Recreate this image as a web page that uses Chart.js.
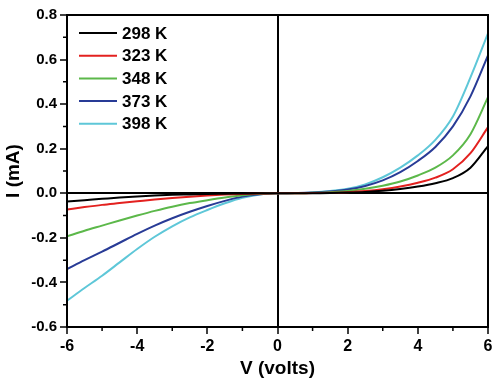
<!DOCTYPE html>
<html lang="en">
<head>
    <meta charset="UTF-8">
    <title>I-V curves</title>
    <style>
        body { margin: 0; padding: 0; background: #fff; }
        #wrap { width: 500px; height: 384px; }
    </style>
    <script src="https://cdn.jsdelivr.net/npm/chart.js"></script>
</head>
<body>
<div id="wrap"><canvas id="ivChart"></canvas></div>
<script>
    // voltage points (V)
    const volts = [-6, -5.5, -5, -4.5, -4, -3.5, -3, -2.5, -2, -1.5, -1, -0.5, 0,
                   0.5, 1, 1.5, 2, 2.5, 3, 3.5, 4, 4.5, 5, 5.5, 6];

    // current (mA)
    const i298 = [-0.037, -0.031, -0.025, -0.019, -0.014, -0.010, -0.007, -0.005, -0.003, -0.002, -0.001, 0, 0,
                  0, 0, 0.001, 0.003, 0.006, 0.011, 0.019, 0.030, 0.045, 0.068, 0.115, 0.212];
    const i323 = [-0.073, -0.062, -0.052, -0.044, -0.036, -0.028, -0.021, -0.015, -0.010, -0.006, -0.003, -0.001, 0,
                  0, 0.001, 0.002, 0.005, 0.010, 0.018, 0.030, 0.047, 0.070, 0.108, 0.180, 0.297];
    const i348 = [-0.193, -0.168, -0.145, -0.122, -0.100, -0.079, -0.060, -0.044, -0.031, -0.019, -0.009, -0.002, 0,
                  0, 0.002, 0.005, 0.010, 0.020, 0.034, 0.053, 0.080, 0.115, 0.170, 0.265, 0.431];
    const i373 = [-0.340, -0.300, -0.262, -0.222, -0.182, -0.145, -0.112, -0.083, -0.057, -0.034, -0.015, -0.004, 0,
                  0.001, 0.003, 0.008, 0.017, 0.033, 0.058, 0.095, 0.145, 0.208, 0.300, 0.435, 0.619];
    const i398 = [-0.482, -0.425, -0.370, -0.310, -0.250, -0.195, -0.148, -0.108, -0.075, -0.045, -0.020, -0.005, 0,
                  0.001, 0.004, 0.010, 0.020, 0.040, 0.072, 0.115, 0.170, 0.240, 0.345, 0.520, 0.718];

    const labels = ['298 K', '323 K', '348 K', '373 K', '398 K'];
    const colors = ['#000000', '#e3211f', '#5cb84a', '#283b96', '#5ec7d8'];
    const series = [i298, i323, i348, i373, i398];

    const font = 'Arial, "Liberation Sans", sans-serif';

    const datasets = series.map((vals, k) => ({
        label: labels[k],
        data: vals.map((v, j) => ({ x: volts[j], y: v })),
        borderColor: colors[k],
        backgroundColor: colors[k],
        borderWidth: 2,
        pointRadius: 0,
        cubicInterpolationMode: 'monotone',
        fill: false
    }));

    // frame, minor ticks and the in-plot legend
    const extras = {
        id: 'extras',
        afterDraw(chart) {
            const c = chart.ctx;
            const a = chart.chartArea;
            const xs = chart.scales.x, ys = chart.scales.y;
            c.save();
            c.strokeStyle = '#000';
            c.lineWidth = 2;
            c.strokeRect(a.left, a.top, a.right - a.left, a.bottom - a.top);

            // minor ticks halfway between labelled ones
            c.lineWidth = 1.5;
            c.beginPath();
            const xt = xs.ticks.map(t => t.value);
            for (let j = 0; j < xt.length - 1; j++) {
                const px = xs.getPixelForValue((xt[j] + xt[j + 1]) / 2);
                c.moveTo(px, a.bottom);
                c.lineTo(px, a.bottom + 4);
            }
            const yt = ys.ticks.map(t => t.value);
            for (let j = 0; j < yt.length - 1; j++) {
                const py = ys.getPixelForValue((yt[j] + yt[j + 1]) / 2);
                c.moveTo(a.left, py);
                c.lineTo(a.left - 4, py);
            }
            c.stroke();

            // legend
            c.font = 'bold 17px ' + font;
            c.textBaseline = 'middle';
            c.fillStyle = '#000';
            chart.data.datasets.forEach((ds, k) => {
                const y = a.top + 18 + k * 22.7;
                c.strokeStyle = ds.borderColor;
                c.lineWidth = 2;
                c.beginPath();
                c.moveTo(a.left + 12, y);
                c.lineTo(a.left + 50, y);
                c.stroke();
                c.fillText(ds.label, a.left + 55, y + 1);
            });
            c.restore();
        }
    };

    const zeroLine = ctx => (ctx.tick && Math.abs(ctx.tick.value) < 1e-9) ? '#000' : 'rgba(0,0,0,0)';

    new Chart(document.getElementById('ivChart'), {
        type: 'line',
        data: { datasets },
        options: {
            responsive: true,
            maintainAspectRatio: false,
            animation: false,
            layout: { padding: { top: 15, right: 12, left: 0, bottom: 0 } },
            plugins: {
                legend: { display: false },
                tooltip: { enabled: false }
            },
            scales: {
                x: {
                    type: 'linear',
                    min: -6, max: 6,
                    ticks: {
                        stepSize: 2,
                        color: '#000',
                        padding: 3,
                        font: { family: font, size: 16, weight: 'bold' }
                    },
                    grid: { color: zeroLine, lineWidth: 2, tickColor: '#000', tickLength: 7, tickWidth: 1.5 },
                    border: { display: true, color: '#000', width: 2 },
                    title: {
                        display: true,
                        text: 'V (volts)',
                        color: '#000',
                        padding: { top: 3, bottom: 4 },
                        font: { family: font, size: 19, weight: 'bold' }
                    },
                    afterFit(scale) { scale.height = 57; }
                },
                y: {
                    min: -0.6, max: 0.8,
                    ticks: {
                        stepSize: 0.2,
                        color: '#000',
                        padding: 3,
                        font: { family: font, size: 15, weight: 'bold' },
                        callback: v => v.toFixed(1)
                    },
                    grid: { color: zeroLine, lineWidth: 2, tickColor: '#000', tickLength: 7, tickWidth: 1.5 },
                    border: { display: true, color: '#000', width: 2 },
                    title: {
                        display: true,
                        text: 'I (mA)',
                        color: '#000',
                        padding: { top: 2, bottom: 2 },
                        font: { family: font, size: 19, weight: 'bold' }
                    },
                    afterFit(scale) { scale.width = 67; }
                }
            }
        },
        plugins: [extras]
    });
</script>
</body>
</html>
